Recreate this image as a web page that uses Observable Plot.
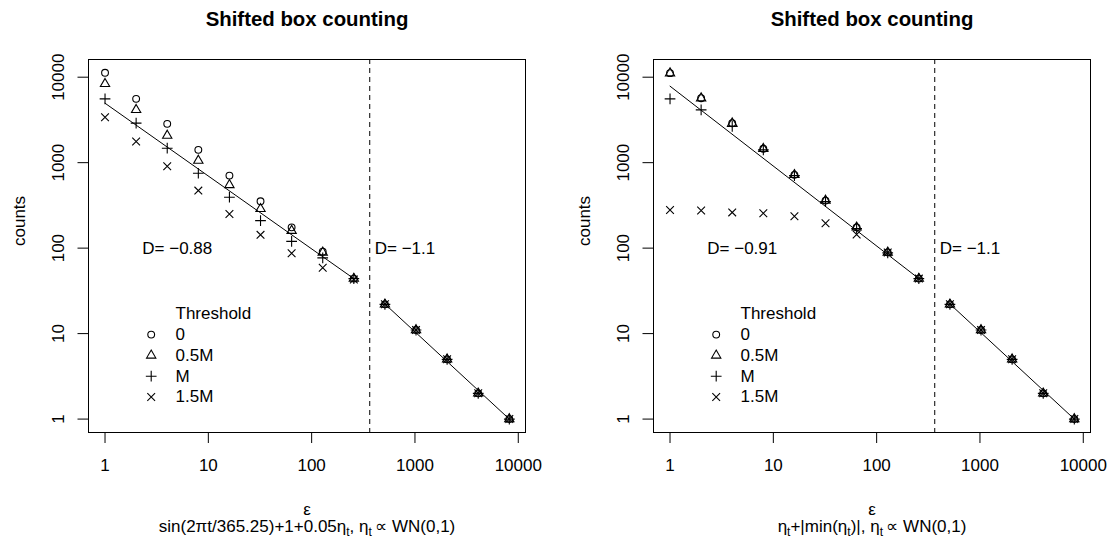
<!DOCTYPE html>
<html><head><meta charset="utf-8">
<script src="https://cdn.jsdelivr.net/npm/d3@7"></script>
<script src="https://cdn.jsdelivr.net/npm/@observablehq/plot@0.6"></script>
<style>
html,body{margin:0;padding:0;background:#fff;}
#wrap{display:flex;width:1107px;height:538px;overflow:hidden;}
#wrap svg{display:block;}
</style></head><body><div id="wrap"></div>
<script>
// ---- data ----
const eps = [1, 2, 4, 8, 16, 32, 64, 128, 256, 512, 1024, 2048, 4096, 8192];
const xTicks = [1, 10, 100, 1000, 10000];
const yTicks = [1, 10, 100, 1000, 10000];
const thresholdLabels = ["0", "0.5M", "M", "1.5M"];
const thresholdSymbols = ["circle", "triangle", "plus", "times"];

// left panel: sin(2πt/365.25)+1+0.05η
const leftT0   = [11250, 5580, 2845, 1413, 706, 353, 175, 91, 44, 22, 11, 5, 2, 1];
const leftT05  = [8370, 4150, 2075, 1058, 549, 288, 160, 89, 44, 22, 11, 5, 2, 1];
const leftTM   = [5580, 2900, 1475, 752, 394, 210, 120, 77, 44, 22, 11, 5, 2, 1];
const leftT15  = [3400, 1770, 908, 471, 251, 143, 87, 59, 43, 22, 11, 5, 2, 1];
const leftFitSmallX = [1, 256];
const leftFitSmallY = [4960, 44];
const leftFitLargeX = [512, 8192];
const leftFitLargeY = [22.2, 1];
const leftDLabels = ["D= −0.88", "D= −1.1"];

// right panel: η+|min(η)|
const rightT0  = [11150, 5680, 2890, 1452, 720, 360, 175, 89, 44, 22, 11, 5, 2, 1];
const rightT05 = [11150, 5680, 2890, 1452, 720, 360, 175, 89, 44, 22, 11, 5, 2, 1];
const rightTM  = [5580, 4150, 2650, 1410, 705, 350, 170, 88, 44, 22, 11, 5, 2, 1];
const rightT15 = [280, 275, 262, 256, 236, 196, 144, 89, 44, 22, 11, 5, 2, 1];
const rightFitSmallX = [1, 256];
const rightFitSmallY = [7850, 44];
const rightFitLargeX = [512, 8192];
const rightFitLargeY = [22.2, 1];
const rightDLabels = ["D= −0.91", "D= −1.1"];

const breakEps = [365];
const dLabelX = [5, 365];
const dLabelY = [100, 100];
const titleText = "Shifted box counting";
const xLabel = "ε";
const yLabel = "counts";
const leftSub = "sin(2πt/365.25)+1+0.05η_t, η_t\u2009∝ WN(0,1)";
const rightSub = "η_t+|min(η_t)|, η_t\u2009∝ WN(0,1)";
const legendTitle = "Threshold";

// ---- drawing ----
const FONT = "'Liberation Sans', Arial, Helvetica, sans-serif";
const symR = {circle: 3.4, triangle: 3.45, plus: 3.55, times: 3.6};

function panel({width, marginLeft, marginRight, series, fitSmall, fitLarge, dLabels, sub}) {
  const marks = [];
  marks.push(Plot.frame({stroke: "black", strokeWidth: 1}));
  marks.push(Plot.ruleX(breakEps, {stroke: "black", strokeWidth: 1, strokeDasharray: "5,4"}));
  marks.push(Plot.line(fitSmall[0], {x: fitSmall[0], y: fitSmall[1], stroke: "black", strokeWidth: 1}));
  marks.push(Plot.line(fitLarge[0], {x: fitLarge[0], y: fitLarge[1], stroke: "black", strokeWidth: 1}));
  series.forEach((vals, i) => {
    const s = thresholdSymbols[i];
    marks.push(Plot.dot(vals, {x: eps, y: vals, symbol: s, r: symR[s], fill: "none", stroke: "black", strokeWidth: 1.1}));
  });
  marks.push(Plot.text([dLabels[0]], {x: [dLabelX[0]], y: [dLabelY[0]], text: d => d, textAnchor: "middle", lineAnchor: "middle", fontSize: 17}));
  marks.push(Plot.text([dLabels[1]], {x: [dLabelX[1]], y: [dLabelY[1]], text: d => d, textAnchor: "start", lineAnchor: "middle", dx: 5, fontSize: 17}));
  // legend
  const rowY = i => 254.3 + i * 20.8;
  marks.push(Plot.text([legendTitle], {frameAnchor: "top-left", text: d => d, dx: 87, dy: rowY(0), textAnchor: "start", lineAnchor: "middle", fontSize: 17}));
  thresholdLabels.forEach((lab, i) => {
    const s = thresholdSymbols[i];
    marks.push(Plot.dot([lab], {frameAnchor: "top-left", dx: 62.7, dy: rowY(i + 1), symbol: s, r: symR[s], fill: "none", stroke: "black", strokeWidth: 1.1}));
    marks.push(Plot.text([lab], {frameAnchor: "top-left", text: d => d, dx: 87, dy: rowY(i + 1), textAnchor: "start", lineAnchor: "middle", fontSize: 17}));
  });
  // axes
  marks.push(Plot.axisX({ticks: xTicks, tickFormat: d => String(d), tickSize: 11, tickPadding: 15.5, fontSize: 17, label: null, stroke: "black"}));
  marks.push(Plot.axisY({ticks: yTicks, tickFormat: d => String(d), tickSize: 10.5, tickPadding: 14.2, tickRotate: -90, textAnchor: "middle", lineAnchor: "bottom", fontSize: 17, label: null, stroke: "black"}));
  // titles
  marks.push(Plot.text([titleText], {frameAnchor: "top", text: d => d, dy: -40.5, lineAnchor: "middle", fontWeight: "bold", fontSize: 20.4}));
  marks.push(Plot.text([yLabel], {frameAnchor: "left", text: d => d, dx: -64, rotate: -90, lineAnchor: "bottom", fontSize: 17}));
  marks.push(Plot.text([xLabel], {frameAnchor: "bottom", text: d => d, dy: 82, lineAnchor: "bottom", fontSize: 17}));
  marks.push(Plot.text([sub], {frameAnchor: "bottom", text: d => d, dy: 99, lineAnchor: "bottom", fontSize: 17}));

  const svg = Plot.plot({
    width, height: 538,
    marginLeft, marginRight, marginTop: 59, marginBottom: 106,
    style: {fontFamily: FONT, fontSize: "17px", background: "white", color: "black", overflow: "visible"},
    x: {type: "log", domain: [Math.pow(10, -0.16), Math.pow(10, 4.07)]},
    y: {type: "log", domain: [Math.pow(10, -0.157), Math.pow(10, 4.207)]},
    marks
  });
  // subscripts for η_t
  d3.select(svg).selectAll("text").each(function () {
    const el = d3.select(this);
    const t = this.textContent;
    if (t === sub && t.includes("_t")) {
      el.text(null);
      const parts = t.split("_t");
      parts.forEach((p, j) => {
        el.append("tspan").text(p).attr("dy", j === 0 ? null : "-4");
        if (j < parts.length - 1) el.append("tspan").text("t").attr("font-size", "12").attr("dy", "4");
      });
    }
  });
  return svg;
}

const wrap = document.getElementById("wrap");
wrap.appendChild(panel({
  width: 565, marginLeft: 88, marginRight: 40,
  series: [leftT0, leftT05, leftTM, leftT15],
  fitSmall: [leftFitSmallX, leftFitSmallY], fitLarge: [leftFitLargeX, leftFitLargeY],
  dLabels: leftDLabels, sub: leftSub
}));
wrap.appendChild(panel({
  width: 542, marginLeft: 88, marginRight: 17,
  series: [rightT0, rightT05, rightTM, rightT15],
  fitSmall: [rightFitSmallX, rightFitSmallY], fitLarge: [rightFitLargeX, rightFitLargeY],
  dLabels: rightDLabels, sub: rightSub
}));
</script></body></html>
